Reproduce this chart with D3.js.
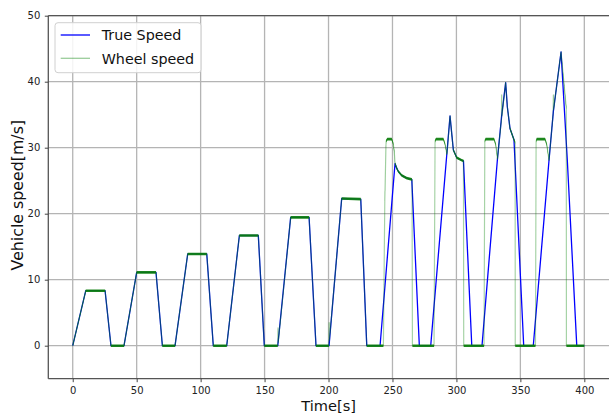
<!DOCTYPE html>
<html><head><meta charset="utf-8">
<script src="https://cdn.jsdelivr.net/npm/d3@7"></script>
<style>
body{margin:0;background:#fff}
svg{display:block}
text{font-family:"DejaVu Sans",sans-serif}
</style>
</head><body>
<svg id="chart" width="609" height="415"></svg>
<script>
// ---------- data ----------
const xTicks = [0, 50, 100, 150, 200, 250, 300, 350, 400];
const yTicks = [0, 10, 20, 30, 40, 50];
const seriesNames = ["True Speed", "Wheel speed"];
const xLabel = "Time[s]";
const yLabel = "Vehicle speed[m/s]";

// True speed (s, m/s)
const trueTime = [0, 10.2, 25.3, 29.9, 40.1, 50.0, 65.1, 70.1, 80.0, 89.9, 104.8, 109.9, 120.4,
  130.3, 145.1, 149.8, 160.3, 170.4, 184.8, 190.2, 200.4, 210.3, 225.2, 229.9, 240.3,
  252.0, 253.3, 254.6, 257.2, 261.1, 265.1, 271.0, 279.9,
  295.0, 296.3, 297.6, 300.2, 304.1, 305.5, 312.0, 320.0,
  332.0, 335.4, 338.5, 339.8, 341.9, 345.0, 352.6, 360.1,
  372.4, 375.8, 381.8, 386.7, 394.1, 400.0];
const trueSpeed = [0, 8.33, 8.33, 0, 0, 11.12, 11.12, 0, 0, 13.9, 13.9, 0, 0,
  16.7, 16.7, 0, 0, 19.45, 19.45, 0, 0, 22.3, 22.2, 0, 0,
  27.6, 26.9, 26.4, 25.8, 25.4, 25.2, 0, 0,
  34.8, 32.2, 29.65, 28.5, 28.1, 28.0, 0, 0,
  28.1, 34.9, 39.85, 36.2, 32.9, 31.2, 0, 0,
  28.1, 35.5, 44.5, 28.1, 0, 0];

// Wheel speed (s, m/s)
const wheelTime = [0, 10.2, 25.3, 29.9, 40.1, 50.0, 65.1, 70.1, 80.0, 89.9, 104.8, 109.9, 120.4,
  130.3, 145.1, 149.8, 160.3, 160.5, 160.7, 170.4, 184.8, 190.2, 200.3, 200.5, 200.7,
  210.3, 225.2, 229.9, 242.9, 244.0, 245.0, 246.0, 249.4, 250.6, 251.4, 252.0,
  253.3, 254.6, 257.2, 261.1, 265.1, 265.3, 265.6, 282.5,
  283.3, 284.0, 289.8, 291.0, 292.6, 295.0, 296.3, 297.6, 300.2, 304.1, 305.5, 305.7, 321.6,
  322.2, 322.8, 329.4, 330.7, 332.1, 335.2, 335.4, 335.6, 338.5, 339.8, 341.9, 345.0, 345.9, 346.0, 361.8,
  362.3, 362.8, 369.3, 370.6, 372.4, 375.6, 375.8, 376.0, 381.8, 385.9, 386.0, 400.0];
const wheelSpeed = [0, 8.33, 8.33, 0, 0, 11.12, 11.12, 0, 0, 13.9, 13.9, 0, 0,
  16.7, 16.7, 0, 0, 2.7, 0.5, 19.45, 19.45, 0, 0, 3.5, 0.8,
  22.3, 22.2, 0, 0, 22.0, 31.0, 31.3, 31.3, 30.6, 29.4, 27.6,
  26.9, 26.4, 25.8, 25.4, 25.2, 25.1, 0, 0,
  31.0, 31.3, 31.3, 30.6, 29.0, 34.8, 32.2, 29.65, 28.5, 28.1, 28.0, 0, 0,
  31.0, 31.3, 31.3, 30.5, 28.3, 34.3, 38.0, 34.8, 39.85, 36.2, 32.9, 31.2, 30.8, 0, 0,
  31.0, 31.3, 31.3, 30.5, 28.1, 35.1, 38.0, 35.8, 44.5, 36.0, 0, 0];
// fluctuation (± m/s) of the wheel-speed signal
const wheelNoise = 0.2;

// ---------- layout ----------
const W = 609, H = 415;
const plot = {left: 48.3, top: 15.7, right: 609.9, bottom: 378.7};
const svg = d3.select("#chart");

const x = d3.scaleLinear().domain([-19.1, 420]).range([plot.left, plot.right]);
const y = d3.scaleLinear().domain([-5, 50]).range([plot.bottom, plot.top]);

svg.append("defs").append("clipPath").attr("id", "clip")
  .append("rect").attr("x", plot.left).attr("y", plot.top)
  .attr("width", plot.right - plot.left).attr("height", plot.bottom - plot.top);

// grid
const grid = svg.append("g");
grid.selectAll("line.gx").data(xTicks).enter().append("line")
  .attr("x1", d => x(d)).attr("x2", d => x(d))
  .attr("y1", plot.top).attr("y2", plot.bottom)
  .attr("stroke", "#b4b4b4").attr("stroke-width", 1.3);
grid.selectAll("line.gy").data(yTicks).enter().append("line")
  .attr("y1", d => y(d)).attr("y2", d => y(d))
  .attr("x1", plot.left).attr("x2", plot.right)
  .attr("stroke", "#b4b4b4").attr("stroke-width", 1.3);

// series
const trueData = trueTime.map((t, i) => [t, trueSpeed[i]]);
const wheelData = wheelTime.map((t, i) => [t, wheelSpeed[i]]);
const line = d3.line().x(d => x(d[0])).y(d => y(d[1]));
const band = d3.area().x(d => x(d[0]))
  .y0(d => y(d[1] - wheelNoise)).y1(d => y(d[1] + wheelNoise));

const g = svg.append("g").attr("clip-path", "url(#clip)");
g.append("path").datum(trueData).attr("d", line)
  .attr("fill", "none").attr("stroke", "#0000ff").attr("stroke-width", 1.3)
  .attr("stroke-linejoin", "round");
g.append("path").datum(wheelData).attr("d", line)
  .attr("fill", "none").attr("stroke", "#008000").attr("stroke-opacity", 0.35)
  .attr("stroke-width", 1.2).attr("stroke-linejoin", "round");
g.append("path").datum(wheelData).attr("d", band)
  .attr("fill", "#0a7d0a").attr("fill-opacity", 0.9).attr("stroke", "none");

// spines
const spine = svg.append("g").attr("stroke", "#555").attr("stroke-width", 1.3);
spine.append("line").attr("x1", plot.left).attr("x2", plot.left).attr("y1", plot.top).attr("y2", plot.bottom);
spine.append("line").attr("x1", plot.left).attr("x2", W).attr("y1", plot.bottom).attr("y2", plot.bottom);
spine.append("line").attr("x1", plot.left).attr("x2", W).attr("y1", plot.top).attr("y2", plot.top);

// axes
const xAxis = svg.append("g").attr("transform", `translate(0,${plot.bottom})`)
  .call(d3.axisBottom(x).tickValues(xTicks).tickSize(3.5).tickPadding(4.5));
const yAxis = svg.append("g").attr("transform", `translate(${plot.left},0)`)
  .call(d3.axisLeft(y).tickValues(yTicks).tickSize(3.5).tickPadding(4.5));
[xAxis, yAxis].forEach(a => {
  a.select(".domain").remove();
  a.selectAll(".tick line").attr("stroke", "#444").attr("stroke-width", 1);
  a.selectAll(".tick text").attr("fill", "#222").style("font-size", "10px")
    .style("font-family", '"DejaVu Sans",sans-serif');
});

// axis labels
svg.append("text").attr("x", (plot.left + W) / 2).attr("y", 411)
  .attr("text-anchor", "middle").attr("fill", "#111").style("font-size", "14.6px").text(xLabel);
svg.append("text").attr("transform", `translate(22.5,${(plot.top + plot.bottom) / 2 - 2}) rotate(-90)`)
  .attr("text-anchor", "middle").attr("fill", "#111").style("font-size", "15.8px").text(yLabel);

// legend
const lg = svg.append("g");
lg.append("rect").attr("x", 55).attr("y", 22.7).attr("width", 146).attr("height", 50)
  .attr("rx", 3).attr("fill", "#fff").attr("fill-opacity", 0.85)
  .attr("stroke", "#d0d0d0").attr("stroke-width", 1);
const legendStyles = [
  {stroke: "#0000ff", op: 1},
  {stroke: "#008000", op: 0.4}
];
seriesNames.forEach((name, i) => {
  const cy = 35 + i * 23.3;
  lg.append("line").attr("x1", 60.7).attr("x2", 90).attr("y1", cy).attr("y2", cy)
    .attr("stroke", legendStyles[i].stroke).attr("stroke-opacity", legendStyles[i].op)
    .attr("stroke-width", 1.3);
  lg.append("text").attr("x", 101.7).attr("y", cy + 5.2).attr("fill", "#111")
    .style("font-size", "14.3px").text(name);
});
</script>
</body></html>
